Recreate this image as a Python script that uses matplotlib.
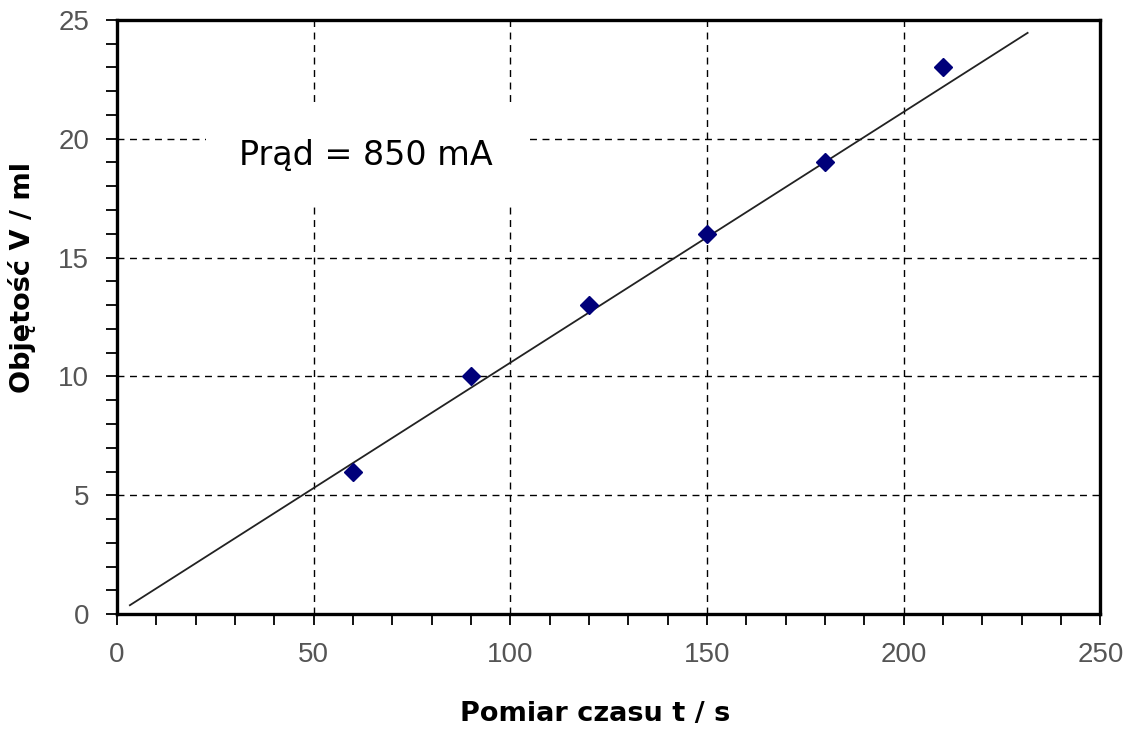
import matplotlib.pyplot as plt
from matplotlib.ticker import MultipleLocator

# measured points
czas = [60, 90, 120, 150, 180, 210]
objetosc = [6, 10, 13, 16, 19, 23]

# trend line ends
trend_x = [3.3, 231.5]
trend_y = [0.38, 24.45]

plt.rcParams['font.family'] = ['DejaVu Sans']

fig = plt.figure(figsize=(11.24, 7.33), dpi=100)
ax = fig.add_axes([0.104, 0.162, 0.875, 0.811])

ax.plot(trend_x, trend_y, color='#222222', lw=1.3, zorder=2)
ax.plot(czas, objetosc, linestyle='none', marker='D', color='#00007a',
        markersize=9, zorder=3)

ax.set_xlim(0, 250)
ax.set_ylim(0, 25)
ax.xaxis.set_major_locator(MultipleLocator(50))
ax.xaxis.set_minor_locator(MultipleLocator(10))
ax.yaxis.set_major_locator(MultipleLocator(5))
ax.yaxis.set_minor_locator(MultipleLocator(1))

ax.grid(True, which='major', color='black', linestyle=(0, (5, 4)), lw=1.0)
for s in ax.spines.values():
    s.set_linewidth(2.4)

ax.tick_params(which='both', direction='out', length=8, width=1.3, color='black')
ax.tick_params(labelsize=20, labelcolor='#555555', pad=12)
for lab in ax.get_xticklabels() + ax.get_yticklabels():
    lab.set_family('Liberation Sans')

ax.text(31, 19.3, 'Prąd = 850 mA', fontsize=24, va='center', ha='left',
        bbox=dict(facecolor='white', edgecolor='none', pad=24), zorder=4)

ax.set_xlabel('Pomiar czasu t / s', fontsize=19.5, fontweight='bold')
ax.set_ylabel('Objętość V / ml', fontsize=19.5, fontweight='bold')
ax.xaxis.set_label_coords(0.486, -0.168)
ax.yaxis.set_label_coords(-0.0966, 0.567)
ax.xaxis.label.set_va('center')
ax.yaxis.label.set_va('center')

fig.savefig('out.png', dpi=100)
